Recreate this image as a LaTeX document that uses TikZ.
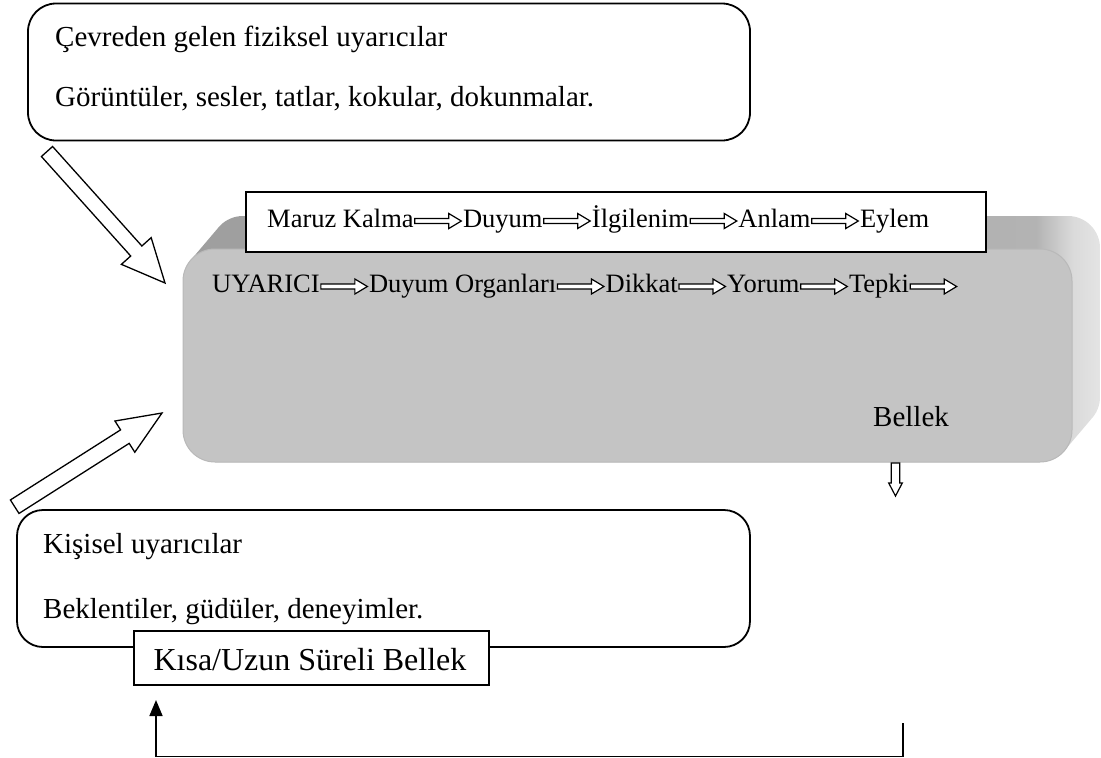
\documentclass[tikz,border=0pt]{standalone}
\usepackage{fontspec}
\setmainfont{Liberation Serif}[Ligatures=NoCommon]
\usetikzlibrary{calc,arrows.meta}

% colours of the bevelled grey block
\definecolor{frontgray}{HTML}{C4C4C4}
\definecolor{rimgray}{HTML}{B9B9B9}
\definecolor{topdark}{HTML}{9E9E9E}
\definecolor{topmid}{HTML}{B3B3B3}
\definecolor{sidelight}{HTML}{DADADA}
\definecolor{sidepale}{HTML}{E4E4E4}

% left-to-right shade of the block's depth (top face dark, right face pale)
\pgfdeclarehorizontalshading{blockdepth}{100bp}{%
  color(0bp)=(topdark); color(25bp)=(topdark); color(71.5bp)=(topmid);
  color(73.5bp)=(sidelight); color(75bp)=(sidepale); color(100bp)=(sidepale)}

% hollow block arrow: [style]{from}{to}{half shaft width}{half head width}{head length}
\newcommand\hollowarrow[6][hollow]{%
  \coordinate (hh) at ($(#3)!#6!(#2)$);
  \draw[#1] ($(#2)!#4!90:(#3)$) -- ($(hh)!#4!90:(#3)$) -- ($(hh)!#5!90:(#3)$)
    -- (#3) -- ($(hh)!#5!-90:(#3)$) -- ($(hh)!#4!-90:(#3)$)
    -- ($(#2)!#4!-90:(#3)$) -- cycle;}

\begin{document}
\begin{tikzpicture}[x=1pt,y=-1pt,
  boxline/.style={draw=black, line width=1.8pt},
  roundbox/.style={boxline, rounded corners=28pt},
  hollow/.style={draw=black, fill=white, line width=1.3pt, line join=miter},
  rowarrow/.style={hollow, line width=1.2pt},
  bigtext/.style={font=\fontsize{29}{34}\selectfont, inner sep=0pt, anchor=base west},
  rowtext/.style={font=\fontsize{26.5}{31}\selectfont, inner sep=0pt, anchor=base west},
  feedback/.style={draw=black, line width=1.6pt},
]
\useasboundingbox (0,0) rectangle (1101,758);

% environmental stimuli
\node[roundbox, minimum width=722pt, minimum height=137pt] (env) at (389,72) {};
\node[bigtext] (e1) at (55,46) {Çevreden gelen fiziksel uyarıcılar};
\node[bigtext] (e2) at (55,106) {Görüntüler, sesler, tatlar, kokular, dokunmalar.};

% grey block: swept depth, then front face
\shade[shading=blockdepth, rounded corners=32pt]
  \foreach \i in {0,...,40} { (183+0.7*\i, 249-0.825*\i) rectangle (1072+0.7*\i, 462-0.825*\i) };
\node[fill=frontgray, draw=rimgray, line width=1pt, rounded corners=32pt,
      minimum width=889pt, minimum height=213pt] (body) at (627.5,355.5) {};

% stage box on top of the block
\node[boxline, fill=white, minimum width=740pt, minimum height=60pt] (phase) at (616,222) {};
\node[rowtext] (m1) at (267,227) {Maruz Kalma};
\node[rowtext] (m2) at ($(m1.base east)+(49,0)$) {Duyum};
\node[rowtext] (m3) at ($(m2.base east)+(49,0)$) {İlgilenim};
\node[rowtext] (m4) at ($(m3.base east)+(49,0)$) {Anlam};
\node[rowtext] (m5) at ($(m4.base east)+(49,0)$) {Eylem};
\foreach \a/\b in {m1/m2,m2/m3,m3/m4,m4/m5} {
  \coordinate (s) at ($(\a.base east)+(1,-6)$);
  \coordinate (t) at ($(\b.base west)+(-1.5,-6)$);
  \hollowarrow[rowarrow]{s}{t}{2.5pt}{7.5pt}{12.5pt}
}

% processing chain
\node[rowtext] (u1) at (212,292.5) {UYARICI};
\node[rowtext] (u2) at ($(u1.base east)+(49,0)$) {Duyum Organları};
\node[rowtext] (u3) at ($(u2.base east)+(49,0)$) {Dikkat};
\node[rowtext] (u4) at ($(u3.base east)+(49,0)$) {Yorum};
\node[rowtext] (u5) at ($(u4.base east)+(49,0)$) {Tepki};
\coordinate (uend) at ($(u5.base east)+(49,0)$);
\foreach \a/\b in {u1/u2,u2/u3,u3/u4,u4/u5,u5/uend} {
  \coordinate (s) at ($(\a.base east)+(1,-6)$);
  \coordinate (t) at ($(\b.base west)+(-1.5,-6)$);
  \hollowarrow[rowarrow]{s}{t}{2.5pt}{7.5pt}{12.5pt}
}

\node[bigtext] (bellek) at (873,426) {Bellek};

% personal stimuli
\node[roundbox, rounded corners=26pt, minimum width=733pt, minimum height=137pt] (pers) at (383.5,578.5) {};
\node[bigtext] (p1) at (43,553) {Kişisel uyarıcılar};
\node[bigtext] (p2) at (43,618) {Beklentiler, güdüler, deneyimler.};

% memory box
\node[boxline, fill=white, minimum width=355pt, minimum height=54pt] (mem) at (311.5,658) {};
\node[font=\fontsize{32}{38}\selectfont, inner sep=0pt, anchor=base] (memtext) at (310,670) {Kısa/Uzun Süreli Bellek};

% block arrows into the grey block
\coordinate (a1s) at (47,151.5);
\coordinate (a1e) at (165,283);
\hollowarrow{a1s}{a1e}{7.5pt}{20pt}{43pt}
\coordinate (a2s) at (14.7,506.7);
\coordinate (a2e) at (162,413);
\hollowarrow{a2s}{a2e}{8pt}{18.5pt}{44pt}

% small arrow out of the block
\coordinate (d1s) at (895.5,463);
\coordinate (d1e) at (895.5,496);
\hollowarrow[rowarrow]{d1s}{d1e}{4.3pt}{6.8pt}{13pt}

% feedback line to memory
\coordinate (fbs) at (903,723);
\coordinate (fblow) at (530,756.5);
\coordinate (fbe) at (156,700);
\draw[feedback, -{Triangle[length=16pt,width=13pt]}] (fbs) |- (fblow) -| (fbe);
\end{tikzpicture}
\end{document}
